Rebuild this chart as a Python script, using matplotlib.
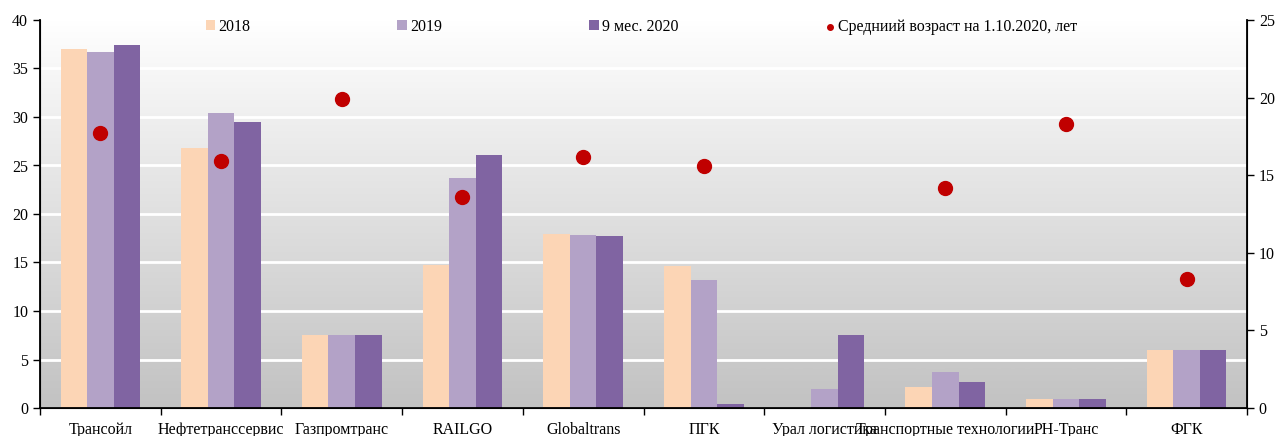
import numpy as np
import matplotlib
matplotlib.use("Agg")
import matplotlib.pyplot as plt
from matplotlib.colors import LinearSegmentedColormap

plt.rcParams['font.family'] = ['Liberation Serif', 'DejaVu Serif']

companies = ["Трансойл", "Нефтетранссервис", "Газпромтранс", "RAILGO", "Globaltrans",
             "ПГК", "Урал логистика", "Транспортные технологии", "РН-Транс", "ФГК"]
fleet_2018 = [37.0, 26.8, 7.5, 14.7, 17.9, 14.6, 0.0, 2.2, 0.9, 6.0]
fleet_2019 = [36.7, 30.4, 7.5, 23.7, 17.8, 13.2, 2.0, 3.7, 0.9, 6.0]
fleet_2020 = [37.4, 29.5, 7.5, 26.1, 17.7, 0.4, 7.5, 2.7, 0.9, 6.0]
avg_age = [17.7, 15.9, 19.9, 13.6, 16.2, 15.6, np.nan, 14.2, 18.3, 8.3]

series_labels = ["2018", "2019", "9 мес. 2020"]
age_label = "Средниий возраст на 1.10.2020, лет"
colors = ["#FCD5B5", "#B3A2C7", "#8064A2"]
dot_color = "#C00000"

fig = plt.figure(figsize=(12.88, 4.36), dpi=100)
ax = fig.add_axes([40 / 1288, 1 - 408 / 436, (1247 - 40) / 1288, (408 - 20) / 436])

n = len(companies)
x = np.arange(n)
w = 0.22

# gradient background (grey at the bottom, white at the top)
grad = LinearSegmentedColormap.from_list("bg", [(0, "#C2C2C2"), (0.6, "#E6E6E6"), (1, "#FFFFFF")])
ax.imshow(np.linspace(0, 1, 256).reshape(-1, 1), cmap=grad, aspect="auto",
          extent=(-0.5, n - 0.5, 0, 40), origin="lower", zorder=0)
ax.set_xlim(-0.5, n - 0.5)
ax.set_ylim(0, 40)

for i, (vals, c, lab) in enumerate(zip([fleet_2018, fleet_2019, fleet_2020], colors, series_labels)):
    ax.bar(x + (i - 1) * w, vals, width=w, color=c, label=lab, zorder=2)

ax.set_yticks(np.arange(0, 41, 5))
ax.yaxis.grid(True, color="white", linewidth=2)
ax.set_axisbelow(True)
ax.set_xticks(np.arange(-0.5, n, 1.0))
ax.set_xticklabels([])
ax.set_xticks(x, minor=True)
ax.set_xticklabels(companies, minor=True)
ax.tick_params(axis="x", which="minor", length=0, pad=10, labelsize=11.5)
ax.tick_params(axis="x", which="major", direction="out", length=5, width=1)
ax.tick_params(axis="y", direction="out", length=5, width=1, labelsize=11.5)
ax.spines["top"].set_visible(False)
for s in ["left", "bottom"]:
    ax.spines[s].set_linewidth(1.3)

ax2 = ax.twinx()
ax2.scatter(x, avg_age, s=100, color=dot_color, zorder=3, label=age_label)
ax2.set_ylim(0, 25)
ax2.set_yticks(np.arange(0, 26, 5))
ax2.tick_params(axis="y", direction="out", length=5, width=1, labelsize=11.5)
ax2.spines["top"].set_visible(False)
ax2.spines["right"].set_linewidth(1.3)

h1, l1 = ax.get_legend_handles_labels()
h2, l2 = ax2.get_legend_handles_labels()
fig.legend(h1 + h2, l1 + l2, loc="center", bbox_to_anchor=(0.498, 1 - 27 / 436), ncol=4,
           frameon=False, fontsize=11.5, columnspacing=9.2, handlelength=0.6,
           handleheight=0.6, handletextpad=0.2, markerscale=0.4)

fig.savefig("out.png", dpi=100)
